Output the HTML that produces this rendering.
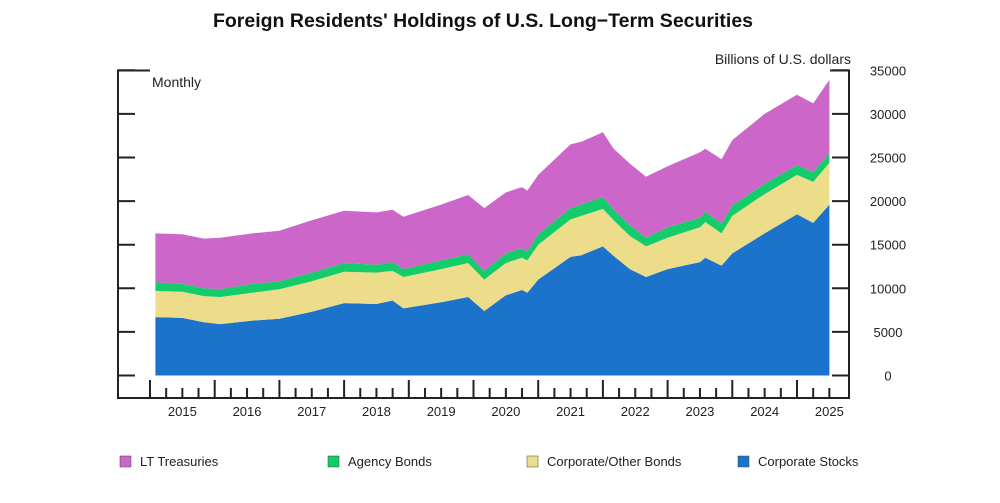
<!DOCTYPE html>
<html><head><meta charset="utf-8"><style>
body{margin:0;background:#fff;}
svg{display:block;font-family:"Liberation Sans",Arial,sans-serif;}
</style></head><body>
<svg id="chart" width="1000" height="503">
<text x="483" y="27" text-anchor="middle" font-size="19.5" font-weight="bold" fill="#111">Foreign Residents' Holdings of U.S. Long−Term Securities</text>
<text x="152" y="87" font-size="14" fill="#222">Monthly</text>
<text x="851" y="64" text-anchor="end" font-size="14" fill="#222">Billions of U.S. dollars</text>
<g id="areas"></g>
<g id="axes" stroke="#222" stroke-width="2" fill="none"></g>
<g id="labels" font-size="13" fill="#222"></g>
<g id="legend" font-size="13" fill="#222"></g>
</svg>
<script>
const months = [1,6,10,13,19,24,30,36,42,45,47,54,59,62,66,69,70,72,78,80,84,86,89,92,96,102,103,106,108,114,120,123,126];
const stocks = [6700,6600,6100,5900,6300,6500,7300,8300,8200,8600,7700,8400,9000,7400,9200,9800,9500,11000,13600,13800,14800,13700,12200,11300,12200,13000,13500,12600,14000,16300,18500,17500,19600];
const corporate = [3000,3000,3000,3100,3200,3400,3500,3600,3600,3400,3600,3800,3900,3600,3700,3700,3700,4000,4300,4500,4300,4100,3800,3500,3600,4000,4100,3700,4300,4500,4500,4700,4800];
const agency = [1000,900,900,900,1000,900,1000,1000,900,1000,900,1000,1000,1000,1100,1100,1000,1200,1300,1300,1400,1200,1200,1000,1200,1100,1200,1100,1200,1200,1100,1100,1100];
const treasuries = [5600,5700,5700,5900,5800,5800,6000,6000,6000,6000,6000,6400,6800,7200,7000,7000,7000,6800,7300,7200,7400,7000,7100,7000,7000,7500,7200,7400,7500,8000,8100,7900,8400];
const yTicks = [0,5000,10000,15000,20000,25000,30000,35000];
const years = ["2015","2016","2017","2018","2019","2020","2021","2022","2023","2024","2025"];

const NS="http://www.w3.org/2000/svg";
const x0=150, yearW=64.7, y0=375.5, yPer=43.6/5000;
const xS=m=>x0+m*yearW/12;
const yS=v=>y0-v*yPer;
function mk(t,a,p){const e=document.createElementNS(NS,t);for(const k in a)e.setAttribute(k,a[k]);p.appendChild(e);return e;}

const series=[
 {vals:stocks,color:"#1b73cc",name:"Corporate Stocks",key:"area-corporate-stocks",lg:"legend-corporate-stocks",lx:743},
 {vals:corporate,color:"#eddc8a",name:"Corporate/Other Bonds",key:"area-corporate-bonds",lg:"legend-corporate-bonds",lx:532},
 {vals:agency,color:"#14cc6a",name:"Agency Bonds",key:"area-agency-bonds",lg:"legend-agency-bonds",lx:333},
 {vals:treasuries,color:"#cc66c8",name:"LT Treasuries",key:"area-lt-treasuries",lg:"legend-lt-treasuries",lx:125}
];
const areas=document.getElementById('areas');
let base=months.map(()=>0);
series.forEach(s=>{
 const top=base.map((b,i)=>b+s.vals[i]);
 let d="M"+months.map((m,i)=>xS(m).toFixed(1)+","+yS(top[i]).toFixed(1)).join("L");
 for(let i=months.length-1;i>=0;i--) d+="L"+xS(months[i]).toFixed(1)+","+yS(base[i]).toFixed(1);
 d+="Z";
 const p=mk('path',{d:d,fill:s.color},areas);
 
 
 base=top;
});

const ax=document.getElementById('axes');
const frame=mk('path',{d:"M150,70.5H118V398H849V70.5H830"},ax);


const lab=document.getElementById('labels');
yTicks.forEach(v=>{
 const y=yS(v);
 const t1=mk('line',{x1:118,x2:135,y1:y,y2:y},ax);
 
 
 const t2=mk('line',{x1:832,x2:849,y1:y,y2:y},ax);
 
 
 const tx=mk('text',{x:888,y:y+5,'text-anchor':'middle'},lab);
 tx.textContent=v;
 
 
});
for(let q=0;q<=42;q++){
 const x=xS(q*3);
 if(x>850)break;
 const tk=mk('line',{x1:x,x2:x,y1:398,y2:q%4===0?380:388},ax);
 
 
}
years.forEach((yr,i)=>{
 const tx=mk('text',{x:xS(i*12+6),y:416,'text-anchor':'middle'},lab);
 tx.textContent=yr;
 
 
});

const lg=document.getElementById('legend');
series.forEach(s=>{
 const g=mk('g',{},lg);
 
 
 mk('rect',{x:s.lx-5,y:456,width:11,height:11,fill:s.color,stroke:"#444","stroke-width":0.5},g);
 const t=mk('text',{x:s.lx+15,y:466},g);
 t.textContent=s.name;
});
</script>
</body></html>
